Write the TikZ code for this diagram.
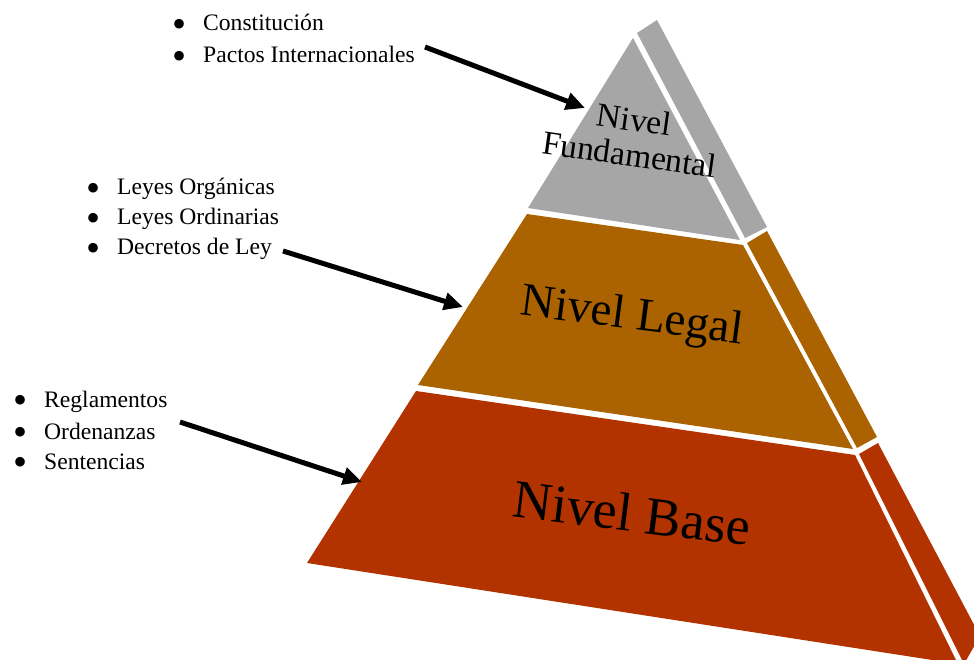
\documentclass[tikz,border=0pt]{standalone}
\usepackage{fontspec}
\setmainfont{Liberation Serif}
\usetikzlibrary{arrows.meta}
\definecolor{grayL}{HTML}{A6A6A6}
\definecolor{orangeL}{HTML}{AA6300}
\definecolor{redL}{HTML}{B23300}
\tikzset{
  item/.style={anchor=base west, inner sep=0pt, font=\fontsize{23.6}{28}\selectfont},
  lvl/.style={inner sep=0pt, align=center, text=black},
  pointer/.style={line width=5pt, -{Triangle[length=19pt,width=17pt]}},
}
\newcommand{\bul}[1]{\makebox[31pt][l]{\raisebox{-6.5pt}{\scalebox{1.7}{\textbullet}}}#1}
\begin{document}
\begin{tikzpicture}[x=1pt,y=-1pt]
\useasboundingbox (0,0) rectangle (974,660);
\clip (0,0) rectangle (974,660);
% pyramid front faces
\fill[grayL] (633,38) -- (740,240) -- (528,208) -- cycle;
\fill[orangeL] (527,214) -- (743,245) -- (853,449) -- (418,385) -- cycle;
\fill[redL] (416,391) -- (855,455) -- (958,664) -- (307,563) -- cycle;
% side faces
\fill[grayL] (637,33) -- (657,20) -- (767,227) -- (745,238) -- cycle;
\fill[orangeL] (747,243) -- (767,231) -- (877,437) -- (857,448) -- cycle;
\fill[redL] (859,454) -- (878,443) -- (980,636) -- (964,664) -- cycle;
% level labels
\node[lvl, rotate=-8, font=\fontsize{33.5}{35}\selectfont] (fund) at (632,137) {Nivel\\Fundamental};
\node[lvl, rotate=-7.5, font=\fontsize{47}{50}\selectfont] (legal) at (632,318) {Nivel Legal};
\node[lvl, rotate=-7, font=\fontsize{54}{58}\selectfont] (base) at (632,513) {Nivel Base};
% lists
\node[item] (c1) at (172,31) {\bul{Constitución}};
\node[item] (c2) at (172,63) {\bul{Pactos Internacionales}};
\node[item] (l1) at (86,195) {\bul{Leyes Orgánicas}};
\node[item] (l2) at (86,225) {\bul{Leyes Ordinarias}};
\node[item] (l3) at (86,255) {\bul{Decretos de Ley}};
\node[item] (r1) at (13,407) {\bul{Reglamentos}};
\node[item] (r2) at (13,439) {\bul{Ordenanzas}};
\node[item] (r3) at (13,469) {\bul{Sentencias}};
% arrows
\coordinate (s1) at (425,47);
\coordinate (t1) at (585,108);
\coordinate (s2) at (283,251);
\coordinate (t2) at (463,307);
\coordinate (s3) at (180,422);
\coordinate (t3) at (362,482);
\draw[pointer] (s1) -- (t1);
\draw[pointer] (s2) -- (t2);
\draw[pointer] (s3) -- (t3);
\end{tikzpicture}
\end{document}
